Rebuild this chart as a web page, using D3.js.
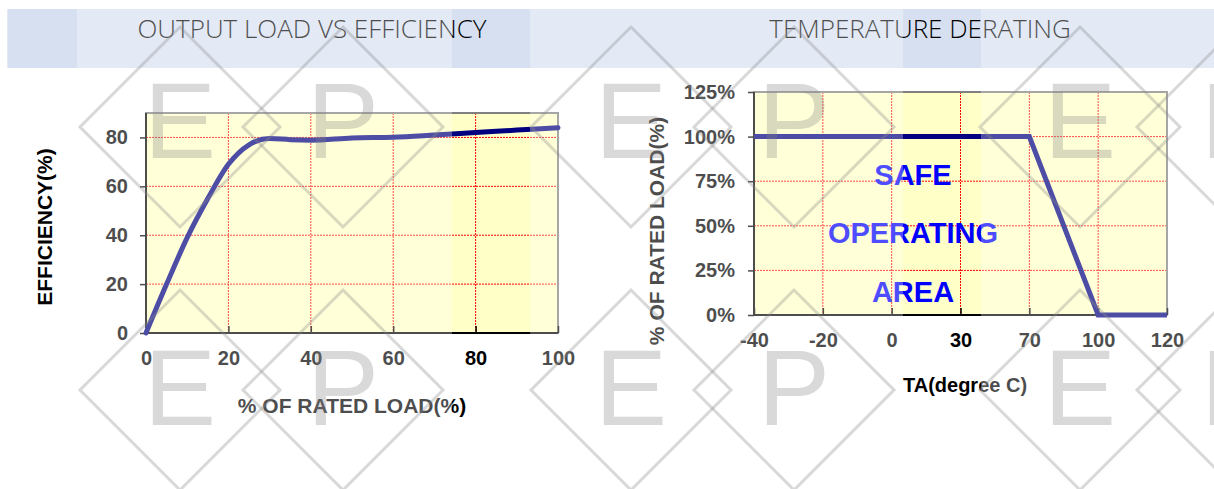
<!DOCTYPE html>
<html>
<head>
<meta charset="utf-8">
<script src="https://cdn.jsdelivr.net/npm/d3@7"></script>
<style>
  html, body { margin: 0; padding: 0; background: #fff; }
  svg { display: block; }
  .lbl { font-family: "Liberation Sans", Arial, sans-serif; font-weight: bold; fill: #000; }
</style>
</head>
<body>
<svg id="chart" width="1214" height="489"></svg>
<script>
// ---------------- data ----------------
const effTitle = "OUTPUT LOAD VS EFFICIENCY";
const derTitle = "TEMPERATURE DERATING";
const loadPct = [0, 5, 10, 15, 20, 25, 30, 35, 40, 50, 60, 70, 80, 90, 100];
const efficiency = [0, 20, 39, 55, 69, 77, 79.6, 79.1, 78.9, 79.8, 80.1, 81, 82, 83, 84];
const loadTicks = [0, 20, 40, 60, 80, 100];
const effTicks = [0, 20, 40, 60, 80];
const tempCategories = ["-40", "-20", "0", "30", "70", "100", "120"];
const derateTemp = ["-40", "70", "100", "120"];
const derateLoad = [100, 100, 0, 0];
const pctTicks = [0, 25, 50, 75, 100, 125];
const areaText = ["SAFE", "OPERATING", "AREA"];
const effXLabel = "% OF RATED LOAD(%)";
const effYLabel = "EFFICIENCY(%)";
const derXLabel = "TA(degree C)";
const derYLabel = "% OF RATED LOAD(%)";
const watermarkLetters = ["E", "P", "E", "P", "E", "P"];

// ---------------- drawing ----------------
const svg = d3.select("#chart");
const W = 1214, H = 489;
svg.append("rect").attr("width", W).attr("height", H).attr("fill", "#fff");

// header band
svg.append("rect").attr("x", 7).attr("y", 9).attr("width", W - 7).attr("height", 59).attr("fill", "#d7e0f1");
const titleFont = "'Open Sans', 'Liberation Sans', sans-serif";
svg.append("text").attr("x", 312).attr("y", 38).attr("text-anchor", "middle")
  .attr("font-family", titleFont).attr("font-weight", 300).attr("font-size", 26).attr("fill", "#000").text(effTitle);
svg.append("text").attr("x", 920).attr("y", 38).attr("text-anchor", "middle")
  .attr("font-family", titleFont).attr("font-weight", 300).attr("font-size", 26).attr("fill", "#000").text(derTitle);

function gridStyle(sel) {
  sel.attr("stroke", "#ff0000").attr("stroke-width", 1).attr("stroke-dasharray", "2,1").attr("fill", "none");
}
function styleAxis(g) {
  g.select(".domain").remove();
  g.selectAll(".tick line").attr("stroke", "#000").attr("stroke-width", 1.5);
  g.selectAll(".tick text").attr("class", "lbl").attr("font-size", 20).attr("fill", "#000")
    .style("font-family", "'Liberation Sans', Arial, sans-serif").style("font-weight", "bold");
}

// ===== Left chart: efficiency =====
{
  const x = d3.scaleLinear().domain([0, 100]).range([146, 558]);
  const y = d3.scaleLinear().domain([0, 90]).range([333, 113]);
  const g = svg.append("g");
  g.append("rect").attr("x", x(0)).attr("y", y(90)).attr("width", x(100) - x(0)).attr("height", y(0) - y(90))
    .attr("fill", "#ffffc8");
  loadTicks.filter(d => d > 0 && d < 100).forEach(d => {
    g.append("line").attr("x1", x(d)).attr("x2", x(d)).attr("y1", y(90)).attr("y2", y(0)).call(gridStyle);
  });
  effTicks.filter(d => d > 0).forEach(d => {
    g.append("line").attr("x1", x(0)).attr("x2", x(100)).attr("y1", y(d)).attr("y2", y(d)).call(gridStyle);
  });
  g.append("rect").attr("x", x(0)).attr("y", y(90)).attr("width", x(100) - x(0)).attr("height", y(0) - y(90))
    .attr("fill", "none").attr("stroke", "#808080").attr("stroke-width", 2);
  g.append("line").attr("x1", x(0)).attr("x2", x(0)).attr("y1", y(90)).attr("y2", y(0)).attr("stroke", "#000").attr("stroke-width", 2);
  g.append("line").attr("x1", x(0)).attr("x2", x(100)).attr("y1", y(0)).attr("y2", y(0)).attr("stroke", "#000").attr("stroke-width", 2);
  g.append("g").attr("transform", `translate(${x(0)},0)`)
    .call(d3.axisLeft(y).tickValues(effTicks).tickSize(6).tickPadding(12)).call(styleAxis);
  g.append("g").attr("transform", `translate(0,${y(0)})`)
    .call(d3.axisBottom(x).tickValues(loadTicks).tickSizeInner(-7).tickSizeOuter(0).tickPadding(18)).call(styleAxis);
  const line = d3.line().x((d, i) => x(loadPct[i])).y(d => y(d)).curve(d3.curveMonotoneX);
  g.append("path").datum(efficiency).attr("d", line).attr("fill", "none")
    .attr("stroke", "#000080").attr("stroke-width", 5).attr("stroke-linecap", "round");
  g.append("text").attr("class", "lbl").attr("x", 352).attr("y", 413).attr("text-anchor", "middle")
    .attr("font-size", 21).text(effXLabel);
  g.append("text").attr("class", "lbl").attr("transform", "translate(52,227) rotate(-90)").attr("text-anchor", "middle")
    .attr("font-size", 21).text(effYLabel);
}

// ===== Right chart: derating =====
{
  const x = d3.scalePoint().domain(tempCategories).range([754, 1167]).padding(0);
  const y = d3.scaleLinear().domain([0, 125]).range([315, 92]);
  const g = svg.append("g");
  const x0 = x(tempCategories[0]), x1 = x(tempCategories[tempCategories.length - 1]);
  g.append("rect").attr("x", x0).attr("y", y(125)).attr("width", x1 - x0).attr("height", y(0) - y(125))
    .attr("fill", "#ffffc8");
  tempCategories.slice(1, -1).forEach(d => {
    g.append("line").attr("x1", x(d)).attr("x2", x(d)).attr("y1", y(125)).attr("y2", y(0)).call(gridStyle);
  });
  pctTicks.filter(d => d > 0 && d < 125).forEach(d => {
    g.append("line").attr("x1", x0).attr("x2", x1).attr("y1", y(d)).attr("y2", y(d)).call(gridStyle);
  });
  g.append("rect").attr("x", x0).attr("y", y(125)).attr("width", x1 - x0).attr("height", y(0) - y(125))
    .attr("fill", "none").attr("stroke", "#808080").attr("stroke-width", 2);
  g.append("line").attr("x1", x0).attr("x2", x0).attr("y1", y(125)).attr("y2", y(0)).attr("stroke", "#000").attr("stroke-width", 2);
  g.append("line").attr("x1", x0).attr("x2", x1).attr("y1", y(0)).attr("y2", y(0)).attr("stroke", "#000").attr("stroke-width", 2);
  g.append("g").attr("transform", `translate(${x0},0)`)
    .call(d3.axisLeft(y).tickValues(pctTicks).tickFormat(d => d + "%").tickSize(6).tickPadding(13)).call(styleAxis);
  g.append("g").attr("transform", `translate(0,${y(0)})`)
    .call(d3.axisBottom(x).tickSizeInner(-7).tickSizeOuter(0).tickPadding(18)).call(styleAxis);
  const ty = [185, 243, 302];
  areaText.forEach((t, i) => {
    g.append("text").attr("class", "lbl").attr("x", 913).attr("y", ty[i]).attr("text-anchor", "middle")
      .attr("font-size", 29).style("fill", "#0000ff").text(t);
  });
  const line = d3.line().x((d, i) => x(derateTemp[i])).y(d => y(d));
  g.append("path").datum(derateLoad).attr("d", line).attr("fill", "none")
    .attr("stroke", "#000080").attr("stroke-width", 5).attr("stroke-linejoin", "miter");
  g.append("text").attr("class", "lbl").attr("x", 965).attr("y", 392).attr("text-anchor", "middle")
    .attr("font-size", 20).text(derXLabel);
  g.append("text").attr("class", "lbl").attr("transform", "translate(664,231) rotate(-90)").attr("text-anchor", "middle")
    .attr("font-size", 21).text(derYLabel);
}

// ===== faded overlay (with clear vertical stripes) =====
const clear = [[8, 77], [452, 530], [903, 981]];
let prev = 0;
clear.concat([[W, W]]).forEach(([a, b]) => {
  if (a > prev) svg.append("rect").attr("x", prev).attr("y", 0).attr("width", a - prev).attr("height", H)
    .attr("fill", "#fff").attr("opacity", 0.3);
  prev = b;
});

// ===== watermark =====
const wm = svg.append("g");
const rows = [127, 390];
const colCenters = [180, 343, 631, 794, 1080, 1237];
rows.forEach((cy, ri) => {
  colCenters.forEach((cx, ci) => {
    const r = 100;
    wm.append("path").attr("d", `M${cx},${cy - r}L${cx + r},${cy}L${cx},${cy + r}L${cx - r},${cy}Z`)
      .attr("fill", "none").attr("stroke", "#888").attr("stroke-opacity", 0.33).attr("stroke-width", 3);
    wm.append("text").attr("x", cx).attr("y", ri === 0 ? 158 : 425).attr("text-anchor", "middle")
      .attr("font-family", "'Liberation Sans', Arial, sans-serif").attr("font-size", 108)
      .attr("fill", "#808080").attr("fill-opacity", 0.3).text(watermarkLetters[ci]);
  });
});
</script>
</body>
</html>
